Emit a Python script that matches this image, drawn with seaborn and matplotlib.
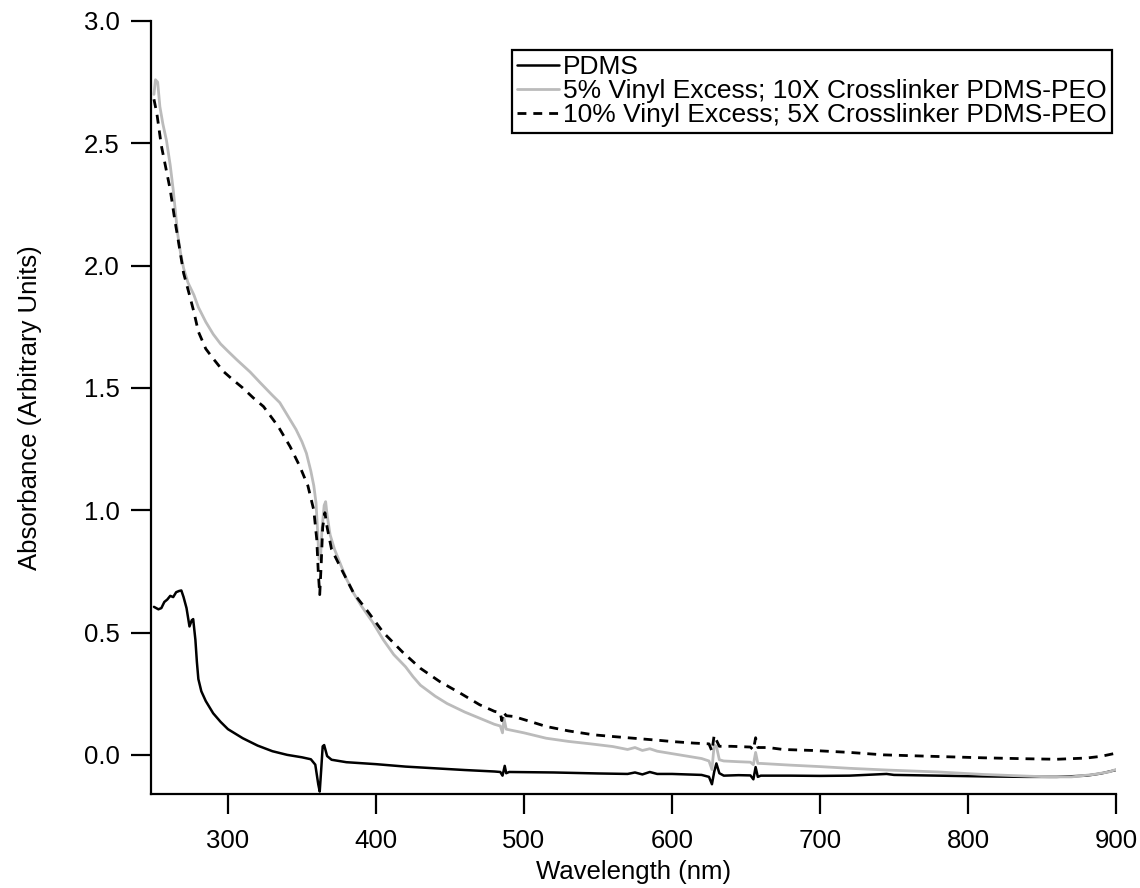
import numpy as np
import pandas as pd
import matplotlib
matplotlib.use("Agg")
import matplotlib.pyplot as plt
import seaborn as sns

# UV-Vis absorbance spectra (wavelength in nm, absorbance in arbitrary units)
pdms_wl = [250, 253, 255, 257, 259, 261, 263, 265, 267, 268.5, 270, 272, 274, 275.5,
           276.5, 278, 279, 280, 282, 285, 290, 295, 300, 310, 320, 330, 340, 350,
           356, 359, 361, 362, 363, 364, 365, 367, 370, 380, 400, 420, 440, 460, 480,
           484, 485.5, 487, 488, 490, 520, 550, 570, 575, 580, 585, 590, 600, 620,
           625, 627, 628.5, 630, 632, 635, 645, 653, 655, 656.5, 658, 660, 680, 700,
           720, 745, 750, 780, 810, 840, 860, 880, 890, 900]
pdms_abs = [0.605, 0.595, 0.600, 0.625, 0.635, 0.650, 0.645, 0.665, 0.670, 0.672,
            0.645, 0.600, 0.525, 0.550, 0.555, 0.470, 0.380, 0.310, 0.260, 0.220,
            0.170, 0.135, 0.105, 0.068, 0.038, 0.015, 0.000, -0.010, -0.018, -0.040,
            -0.120, -0.150, -0.060, 0.035, 0.040, -0.005, -0.020, -0.030, -0.038,
            -0.048, -0.055, -0.062, -0.068, -0.070, -0.085, -0.045, -0.075, -0.070,
            -0.072, -0.076, -0.078, -0.072, -0.080, -0.070, -0.078, -0.078, -0.082,
            -0.090, -0.120, -0.070, -0.035, -0.075, -0.085, -0.083, -0.084, -0.100,
            -0.050, -0.090, -0.085, -0.085, -0.086, -0.085, -0.078, -0.082, -0.085,
            -0.088, -0.090, -0.090, -0.085, -0.076, -0.062]

vinyl5_wl = [250, 251, 252.5, 254, 256, 258.5, 261, 263, 266, 268, 270, 273, 277, 280,
             285, 290, 295, 300, 306, 315, 322, 330, 335, 340, 346, 350, 353, 356, 358,
             359.5, 360.5, 361.5, 362.5, 363.5, 365, 366, 367, 369, 372, 376, 380, 385,
             390, 398, 405, 412, 420, 425, 430, 440, 448, 460, 470, 480, 484, 485.5,
             486.5, 488, 500, 515, 530, 545, 560, 570, 575, 580, 585, 590, 600, 610,
             620, 625, 627, 628.5, 630, 632, 635, 645, 653, 655, 656.5, 658, 660, 680,
             700, 720, 745, 780, 810, 840, 855, 870, 885, 895, 900]
vinyl5_abs = [2.70, 2.76, 2.75, 2.65, 2.58, 2.51, 2.41, 2.31, 2.13, 2.05, 1.99, 1.93,
              1.88, 1.83, 1.77, 1.72, 1.68, 1.65, 1.615, 1.565, 1.52, 1.47, 1.44, 1.39,
              1.33, 1.28, 1.233, 1.16, 1.10, 1.03, 0.92, 0.80, 0.80, 0.92, 1.02, 1.035,
              0.98, 0.90, 0.84, 0.78, 0.72, 0.66, 0.61, 0.54, 0.47, 0.41, 0.36, 0.32,
              0.285, 0.24, 0.21, 0.175, 0.15, 0.125, 0.118, 0.090, 0.150, 0.105, 0.090,
              0.068, 0.055, 0.045, 0.034, 0.022, 0.030, 0.018, 0.025, 0.015, 0.005,
              -0.005, -0.015, -0.025, -0.060, 0.040, 0.035, -0.020, -0.025, -0.028,
              -0.030, -0.040, 0.010, -0.035, -0.035, -0.042, -0.048, -0.055, -0.062,
              -0.070, -0.080, -0.087, -0.090, -0.090, -0.080, -0.070, -0.060]

vinyl10_wl = [250, 252, 255, 258, 261, 264, 266.5, 270, 274, 277, 280, 285, 290, 297,
              303, 310, 317, 324, 334, 342, 348.5, 354, 358, 360, 361, 362, 363, 364,
              365.5, 367, 370, 377, 385, 394, 405, 418, 430, 443, 457, 470, 480, 484,
              485, 486, 488, 493, 505, 515, 530, 547, 560, 574, 590, 601, 615, 625, 627,
              628.5, 630, 632, 640, 653, 655, 656.5, 658, 665, 675, 695, 720, 743, 770,
              810, 840, 860, 880, 890, 900]
vinyl10_abs = [2.68, 2.62, 2.49, 2.40, 2.31, 2.19, 2.10, 1.97, 1.88, 1.81, 1.73, 1.66,
               1.62, 1.567, 1.535, 1.50, 1.46, 1.424, 1.342, 1.26, 1.18, 1.10, 1.00,
               0.88, 0.75, 0.655, 0.78, 0.93, 0.99, 0.93, 0.84, 0.755, 0.66, 0.59, 0.50,
               0.42, 0.354, 0.30, 0.252, 0.205, 0.178, 0.172, 0.140, 0.175, 0.160, 0.157,
               0.135, 0.116, 0.098, 0.082, 0.075, 0.068, 0.060, 0.054, 0.048, 0.045,
               0.015, 0.080, 0.060, 0.035, 0.035, 0.032, 0.020, 0.070, 0.030, 0.030,
               0.022, 0.018, 0.010, 0.000, -0.005, -0.012, -0.016, -0.018, -0.013,
               -0.006, 0.007]

labels = ["PDMS",
          "5% Vinyl Excess; 10X Crosslinker PDMS-PEO",
          "10% Vinyl Excess; 5X Crosslinker PDMS-PEO"]

sns.set_theme(style="ticks")
plt.rcParams["font.family"] = ["Liberation Sans", "DejaVu Sans"]
plt.rcParams["axes.linewidth"] = 1.6
plt.rcParams["text.color"] = "black"
plt.rcParams["axes.labelcolor"] = "black"

fig = plt.figure(figsize=(11.4, 8.88), dpi=100)
ax = fig.add_axes([151 / 1140, 1 - 794 / 888, (1116 - 151) / 1140, (794 - 21) / 888])

df_pdms = pd.DataFrame({"wl": pdms_wl, "abs": pdms_abs})
df_v5 = pd.DataFrame({"wl": vinyl5_wl, "abs": vinyl5_abs})
df_v10 = pd.DataFrame({"wl": vinyl10_wl, "abs": vinyl10_abs})

sns.lineplot(data=df_pdms, x="wl", y="abs", ax=ax, color="black", lw=1.8,
             estimator=None, sort=False, label=labels[0])
sns.lineplot(data=df_v5, x="wl", y="abs", ax=ax, color="#bbbbbb", lw=2.0,
             estimator=None, sort=False, label=labels[1])
sns.lineplot(data=df_v10, x="wl", y="abs", ax=ax, color="black", lw=2.0,
             linestyle=(0, (3.2, 2.5)), estimator=None, sort=False, label=labels[2])

ax.set_xlim(248, 900)
ax.set_ylim(-0.16, 3.0)
ax.set_xticks([300, 400, 500, 600, 700, 800, 900])
ax.set_yticks([0.0, 0.5, 1.0, 1.5, 2.0, 2.5, 3.0])
ax.yaxis.set_major_formatter(matplotlib.ticker.FormatStrFormatter("%.1f"))
ax.tick_params(direction="out", length=14.4, width=1.6, labelsize=18.5,
               colors="black")
ax.tick_params(axis="x", pad=11)
ax.tick_params(axis="y", pad=8)
sns.despine(ax=ax)
ax.spines["left"].set_color("black")
ax.spines["bottom"].set_color("black")

ax.set_xlabel("Wavelength (nm)", fontsize=18.5, color="black", labelpad=5)
ax.set_ylabel("Absorbance (Arbitrary Units)", fontsize=18.5, color="black",
              labelpad=30)

leg = ax.legend(loc="upper right", bbox_to_anchor=(1112 / 1140, 1 - 50 / 888),
                bbox_transform=fig.transFigure, fontsize=19, frameon=True,
                fancybox=False, edgecolor="black", framealpha=1,
                handlelength=1.6, handletextpad=0.15, labelspacing=0.0,
                borderpad=0.2, borderaxespad=0)
leg.get_frame().set_linewidth(1.6)
for txt in leg.get_texts():
    txt.set_color("black")

fig.savefig("out.png", dpi=100, facecolor="white")
